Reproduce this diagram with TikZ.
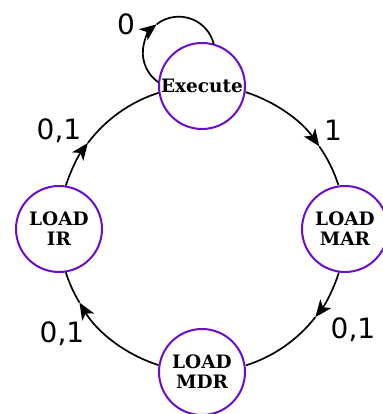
\documentclass[tikz,border=0pt]{standalone}
\usepackage{fontspec}
\usepackage{xcolor}
\usepackage{tikz}
\usetikzlibrary{arrows.meta,positioning}
\newfontfamily\statefont{DejaVu Serif}
\newfontfamily\labelfont{DejaVu Sans}
\definecolor{fsmPurple}{HTML}{6A0DCC}
\definecolor{fsmLine}{HTML}{000000}
\tikzset{
  state/.style={
    circle,
    draw=fsmPurple,
    line width=2pt,
    fill=white,
    align=center,
    inner sep=0pt,
    minimum size=86pt,
    font=\statefont\bfseries\fontsize{18.5}{20}\selectfont
  },
  lbl/.style={
    inner sep=0pt,
    font=\labelfont\fontsize{28}{30}\selectfont
  },
  edge/.style={line width=1.7pt, draw=fsmLine},
  arrow/.style={edge, -{Stealth[length=17pt,width=14pt,inset=4.5pt]}}
}

\begin{document}
\begin{tikzpicture}[x=1pt, y=1pt]
  \useasboundingbox (0,0) rectangle (382,414);
  % states
  \node[state] (exec) at (202,328) {Execute};
  \node[state] (mar) at (345,185) {LOAD\\MAR};
  \node[state] (mdr) at (202,42) {LOAD\\MDR};
  \node[state] (ir) at (59,185) {LOAD\\IR};
  % transitions round the cycle, head part then tail part
  \draw[arrow] (exec.-8.8) arc[start angle=72.3, end angle=35, radius=143] coordinate (tipa);
  \draw[edge] (tipa) arc[start angle=35, end angle=17.7, radius=143];
  \draw[arrow] (mar.-98.8) arc[start angle=-17.7, end angle=-38, radius=143] coordinate (tipb);
  \draw[edge] (tipb) arc[start angle=-38, end angle=-72.3, radius=143];
  \draw[arrow] (mdr.171.2) arc[start angle=-107.7, end angle=-149, radius=143] coordinate (tipc);
  \draw[edge] (tipc) arc[start angle=-149, end angle=-162.3, radius=143];
  \draw[arrow] (ir.81.2) arc[start angle=162.3, end angle=143, radius=143] coordinate (tipd);
  \draw[edge] (tipd) arc[start angle=143, end angle=107.7, radius=143];
  % self loop
  \draw[arrow] (exec.175) arc[start angle=235, end angle=128, radius=36] coordinate (tipe);
  \draw[edge] (tipe) arc[start angle=128, end angle=14, radius=36];
  % labels
  \node[lbl] (lone) at (333,284) {1};
  \node[lbl] (lmar) at (353,84) {0,1};
  \node[lbl] (lmdr) at (62,80) {0,1};
  \node[lbl] (lir) at (59,283) {0,1};
  \node[lbl] (lzero) at (126,390) {0};
\end{tikzpicture}
\end{document}
